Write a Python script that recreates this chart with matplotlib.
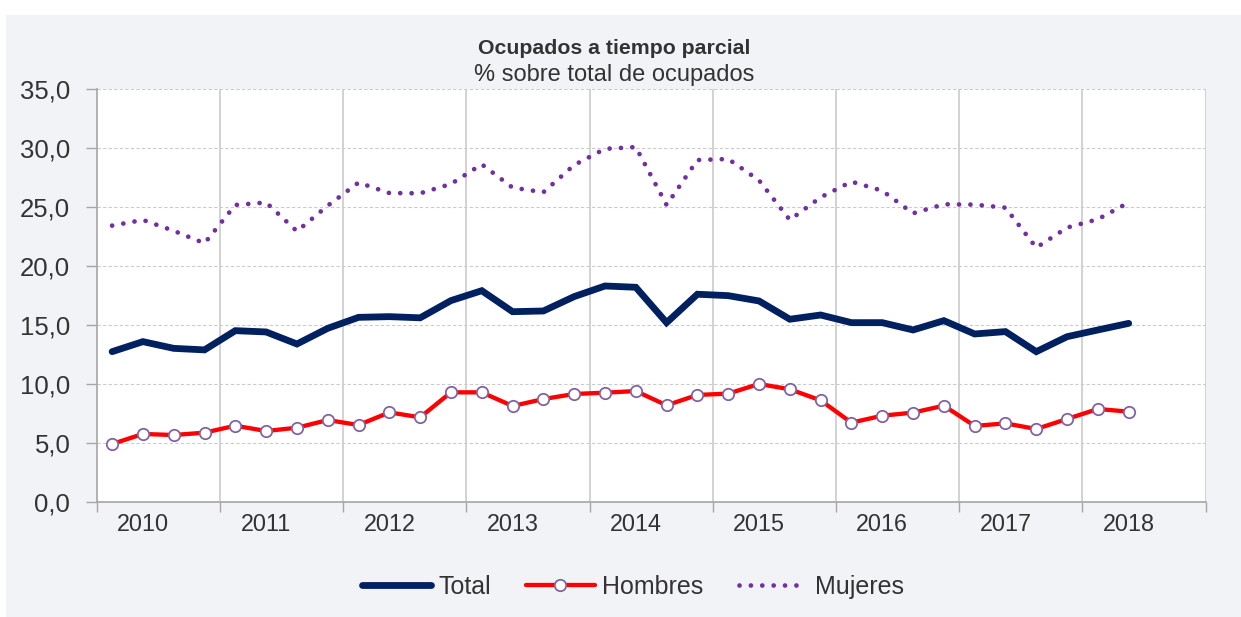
import matplotlib
matplotlib.use("Agg")
import matplotlib.pyplot as plt

plt.rcParams['font.family'] = ['Liberation Sans', 'DejaVu Sans']

years = ['2010', '2011', '2012', '2013', '2014', '2015', '2016', '2017', '2018']
total = [12.75, 13.6, 13.03, 12.9, 14.53, 14.42, 13.4, 14.73, 15.66, 15.72, 15.62,
         17.08, 17.92, 16.14, 16.2, 17.42, 18.32, 18.21, 15.21, 17.62, 17.5, 17.05,
         15.5, 15.86, 15.21, 15.21, 14.59, 15.38, 14.25, 14.45, 12.75, 14.02, 14.59, 15.15]
hombres = [4.92, 5.77, 5.68, 5.88, 6.47, 6.02, 6.3, 6.95, 6.53, 7.6, 7.18, 9.3, 9.3,
           8.14, 8.73, 9.16, 9.27, 9.41, 8.2, 9.08, 9.19, 10.01, 9.56, 8.62, 6.73,
           7.32, 7.58, 8.17, 6.45, 6.67, 6.19, 7.04, 7.89, 7.66]
mujeres = [23.44, 23.92, 23.0, 21.94, 25.19, 25.4, 22.96, 25.13, 27.09, 26.2, 26.18,
           26.97, 28.64, 26.66, 26.27, 28.58, 29.95, 30.1, 25.19, 29.0, 29.09, 27.28,
           23.92, 25.84, 27.17, 26.4, 24.48, 25.25, 25.22, 24.96, 21.57, 23.27, 23.98, 25.4]
yticks = [0, 5, 10, 15, 20, 25, 30, 35]

W, H = 1241, 617
fig = plt.figure(figsize=(W / 100, H / 100), dpi=100)
fig.patch.set_facecolor('white')
bg = plt.Rectangle((6 / W, 0), 1 - 6 / W, 1 - 15 / H, transform=fig.transFigure,
                   facecolor='#F2F3F7', edgecolor='none', zorder=-10)
fig.patches.append(bg)

ax = fig.add_axes([96.7 / W, 1 - 502 / H, (1205.7 - 96.7) / W, (502 - 89.3) / H])
ax.set_facecolor('white')

txt = '#333333'
grid_c = '#CBCBCB'
spine_c = '#A6A6A6'

nq = len(years) * 4
x = list(range(len(total)))

ax.plot(x, total, color='#002060', lw=4.9, solid_joinstyle='miter',
        solid_capstyle='round', zorder=3, label='Total')
ax.plot(x, hombres, color='#FF0000', lw=3.1, marker='o', ms=8.2, mfc='white',
        mec='#8064A2', mew=1.3, solid_capstyle='round', zorder=4, label='Hombres')
ax.plot(x, mujeres, color='#7030A0', lw=3.4, linestyle=(0, (0.01, 2.4)),
        dash_capstyle='round', zorder=3, label='Mujeres')

ax.set_xlim(-0.5, nq - 0.5)
ax.set_ylim(0, 35)

# horizontal grid
ax.set_yticks(yticks)
ax.set_yticklabels([f'{v:.1f}'.replace('.', ',') for v in yticks])
for v in yticks[1:]:
    ax.axhline(v, color=grid_c, lw=0.8, ls=(0, (3, 2)), zorder=1)
# vertical year boundaries
bounds = [4 * k - 0.5 for k in range(len(years) + 1)]
for b in bounds[1:]:
    ax.axvline(b, color=grid_c, lw=1.2, zorder=1)

ax.set_xticks(bounds)
ax.set_xticklabels([''] * len(bounds))
ax.set_xticks([4 * k + 1 for k in range(len(years))], minor=True)
ax.set_xticklabels(years, minor=True)
ax.tick_params(axis='x', which='major', length=7, width=1, color=spine_c, direction='out')
ax.tick_params(axis='x', which='minor', length=0, pad=8, labelsize=16.8, labelcolor=txt)
ax.tick_params(axis='y', length=8, width=1, color=spine_c, pad=11, labelsize=18.5, labelcolor=txt)

for s in ['top', 'right']:
    ax.spines[s].set_visible(False)
for s in ['left', 'bottom']:
    ax.spines[s].set_color(spine_c)
    ax.spines[s].set_linewidth(1.2)

fig.text(614 / W, 1 - 54 / H, 'Ocupados a tiempo parcial', ha='center', va='baseline',
         fontsize=15.3, fontweight='bold', color=txt)
fig.text(614 / W, 1 - 81 / H, '% sobre total de ocupados', ha='center', va='baseline',
         fontsize=17, color=txt)

leg = fig.legend(loc='center', bbox_to_anchor=(633 / W, 1 - 587 / H), ncol=3, frameon=False,
                 fontsize=18, handlelength=2.75, handletextpad=0.3, columnspacing=1.4,
                 numpoints=1, labelcolor=txt)

fig.savefig('out.png', dpi=100, facecolor=fig.get_facecolor())
